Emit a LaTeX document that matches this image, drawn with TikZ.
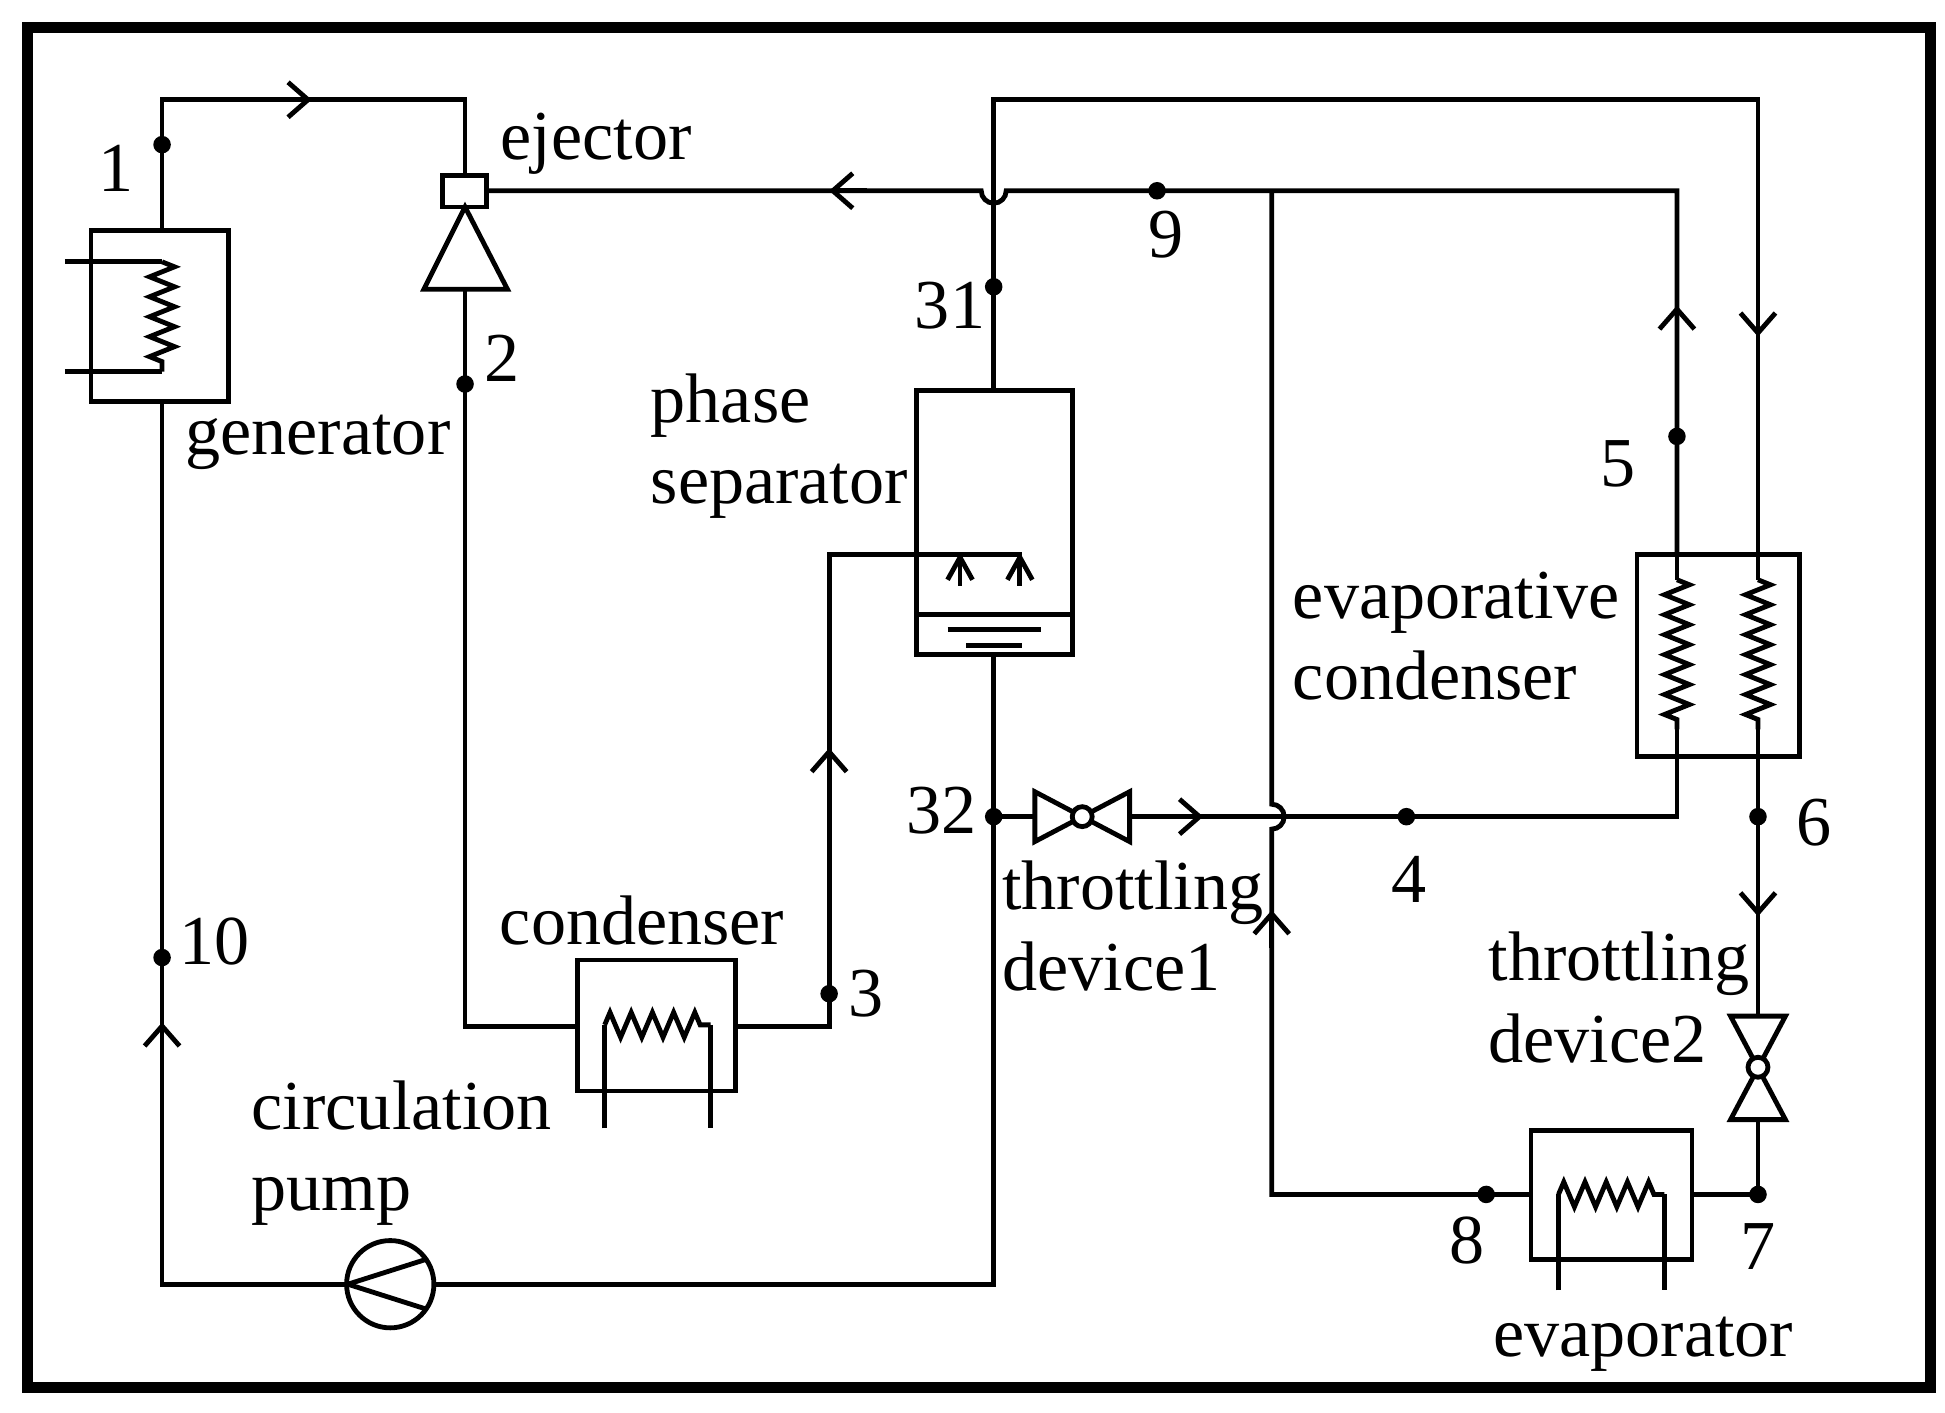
\documentclass[tikz,border=0pt]{standalone}
\usepackage{fontspec}
\setmainfont{Liberation Serif}
\usetikzlibrary{arrows.meta,decorations.pathmorphing}
\begin{document}
\begin{tikzpicture}[x=0.01cm,y=-0.01cm,line width=1.1pt,
 lbl/.style={font=\fontsize{16}{18.5}\selectfont,inner sep=0pt,align=left},
 dot/.style={circle,fill,inner sep=0pt,minimum size=4pt},
 arr/.style={-{Straight Barb[length=0.16cm,width=0.28cm,line width=1.1pt]}},
 zz/.style={decorate,decoration={zigzag,segment length=0.16cm,amplitude=0.1cm}}]
\useasboundingbox (0,0) rectangle (1560,1133);
\draw[line width=2.5pt] (22,22) rectangle (1548,1113);
% generator
\draw (73,185) rectangle (183,322);
\draw (52,210) -- (130,210);
\draw[zz] (130,210) -- (130,298);
\draw (52,298) -- (130,298);
\node[lbl] (lgen) at (255,355) {generator};
% ejector
\draw (355,141) rectangle (390,166);
\draw (373,166) -- (340,232) -- (407,232) -- cycle;
\node[lbl] (lej) at (478,115) {ejector};
% top-left loop
\draw (130,185) -- (130,80) -- (373,80) -- (373,141);
\draw[arr] (220,80) -- (250,80);
\node[dot] (p1) at (130,116) {}; \node[lbl] at (93,135) {1};
% 2 and condenser
\draw (373,232) -- (373,823) -- (463,823);
\node[dot] (p2) at (373,308) {}; \node[lbl] at (403,287) {2};
\draw (463,770) rectangle (590,875);
\draw (485,905) -- (485,822);
\draw[decorate,decoration={zigzag,segment length=0.17cm,amplitude=0.1cm}] (485,822) -- (570,822);
\draw (570,822) -- (570,905);
\node[lbl] at (515,738) {condenser};
\draw (590,823) -- (665,823) -- (665,445) -- (820,445);
\draw[arr] (665,630) -- (665,600);
\node[dot] (p3) at (665,797) {}; \node[lbl] at (695,797) {3};
% phase separator
\draw (735,313) rectangle (860,525);
\draw (735,493) -- (860,493);
\draw (760,505) -- (835,505); \draw (775,518) -- (820,518);
\draw (770,445) -- (770,470); \draw (818,445) -- (818,470);
\draw (760,465) -- (770,447) -- (780,465);
\draw (808,465) -- (818,447) -- (828,465);
\node[lbl,anchor=west] at (520,358) {phase\\separator};
% top line
\draw (797,313) -- (797,80) -- (1410,80) -- (1410,445);
\draw[arr] (1410,245) -- (1410,270);
\node[dot] (p31) at (797,230) {}; \node[lbl] at (762,245) {31};
% suction line with hop
\draw (390,153) -- (787,153) arc[start angle=180,end angle=0,radius=10] -- (1345,153) -- (1345,445);
\draw[arr] (695,153) -- (665,153);
\draw[arr] (1345,275) -- (1345,245);
\node[dot] (p9) at (928,153) {}; \node[lbl] at (935,188) {9};
\node[dot] (p5) at (1345,350) {}; \node[lbl] at (1298,372) {5};
% vertical 1020
\draw (1020,153) -- (1020,645) arc[start angle=-90,end angle=90,radius=10] -- (1020,958) -- (1228,958);
\draw[arr] (1020,760) -- (1020,730);
\node[dot] (p8) at (1192,958) {}; \node[lbl] at (1177,995) {8};
% evaporative condenser
\draw (1313,445) rectangle (1443,607);
\draw (1345,445) -- (1345,465);
\draw[zz] (1345,465) -- (1345,585);
\draw (1345,585) -- (1345,607);
\draw (1410,445) -- (1410,465);
\draw[zz] (1410,465) -- (1410,585);
\draw (1410,585) -- (1410,607);
\node[lbl,anchor=west] at (1035,510) {evaporative\\condenser};
% line 4
\draw (1345,607) -- (1345,655) -- (797,655);
\draw[fill=white] (830,635) -- (830,675) -- (906,635) -- (906,675) -- cycle;
\draw[fill=white] (868,655) circle (8);
\draw[arr] (930,655) -- (965,655);
\node[dot] (p32) at (797,655) {}; \node[lbl] at (755,650) {32};
\node[dot] (p4) at (1128,655) {}; \node[lbl] at (1130,705) {4};
\node[lbl,anchor=west] at (802,743) {throttling\\device1};
% line 6-7
\draw (1410,607) -- (1410,958) -- (1357,958);
\draw[fill=white] (1388,815) -- (1432,815) -- (1388,898) -- (1432,898) -- cycle;
\draw[fill=white] (1410,856) circle (8);
\draw[arr] (1410,705) -- (1410,735);
\node[dot] (p6) at (1410,655) {}; \node[lbl] at (1455,660) {6};
\node[dot] (p7) at (1410,958) {}; \node[lbl] at (1410,1000) {7};
\node[lbl,anchor=west] at (1192,800) {throttling\\device2};
% evaporator
\draw (1228,907) rectangle (1357,1010);
\draw (1250,1035) -- (1250,958);
\draw[decorate,decoration={zigzag,segment length=0.17cm,amplitude=0.1cm}] (1250,958) -- (1335,958);
\draw (1335,958) -- (1335,1035);
\node[lbl] at (1318,1078) {evaporator};
% bottom loop
\draw (797,525) -- (797,1030) -- (348,1030);
\draw (278,1030) -- (130,1030) -- (130,322);
\draw (313,1030) circle (35);
\draw (279,1030) -- (342,1010); \draw (279,1030) -- (342,1050);
\draw[arr] (130,850) -- (130,820);
\node[dot] (p10) at (130,768) {}; \node[lbl] at (172,755) {10};
\node[lbl,anchor=west] at (200,925) {circulation\\pump};
\end{tikzpicture}
\end{document}
